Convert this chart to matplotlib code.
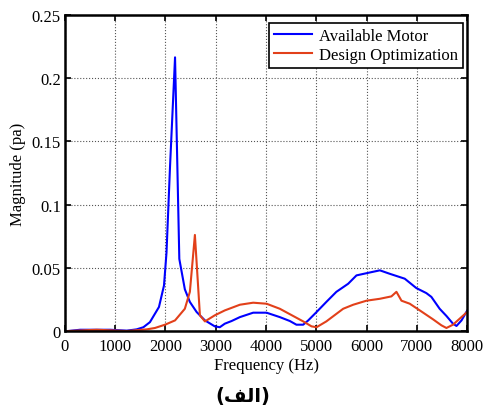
import matplotlib.pyplot as plt
import numpy as np
from matplotlib.ticker import FuncFormatter

# Datos (frecuencia en Hz, magnitud en pa)
freq_available = [66, 300, 900, 1230, 1425, 1560, 1690, 1870, 1970, 2020, 2090, 2190,
                  2275, 2385, 2485, 2620, 2785, 2980, 3080, 3180, 3315, 3480, 3745,
                  4010, 4275, 4475, 4605, 4740, 4840, 5005, 5200, 5400, 5635, 5800,
                  6030, 6265, 6460, 6760, 6990, 7190, 7290, 7455, 7590, 7720, 7790,
                  7890, 8000]
mag_available = [0.0, 0.001, 0.001, 0.0003, 0.0013, 0.003, 0.007, 0.019, 0.036, 0.062,
                 0.13, 0.2165, 0.057, 0.033, 0.023, 0.015, 0.0084, 0.0037, 0.003,
                 0.0058, 0.0079, 0.011, 0.0145, 0.0145, 0.011, 0.0079, 0.005, 0.005,
                 0.0084, 0.015, 0.023, 0.031, 0.0374, 0.044, 0.046, 0.048, 0.0453,
                 0.0414, 0.034, 0.030, 0.027, 0.0176, 0.0119, 0.0058, 0.004, 0.0084,
                 0.016]

freq_design = [66, 630, 1230, 1625, 1790, 1990, 2190, 2385, 2485, 2585, 2685, 2785,
               2980, 3180, 3480, 3745, 4010, 4275, 4540, 4740, 4905, 5005, 5200, 5535,
               5735, 6000, 6265, 6495, 6595, 6695, 6860, 7060, 7325, 7490, 7590, 7720,
               8000]
mag_design = [0.0, 0.001, 0.0, 0.0013, 0.0024, 0.005, 0.0084, 0.0176, 0.031, 0.076,
              0.0124, 0.0076, 0.0124, 0.0163, 0.0208, 0.0224, 0.0216, 0.0176, 0.0119,
              0.0076, 0.0037, 0.003, 0.0076, 0.0176, 0.0208, 0.024, 0.0255, 0.0274,
              0.031, 0.024, 0.0216, 0.0163, 0.0092, 0.0045, 0.0024, 0.005, 0.015]

x_ticks = [0, 1000, 2000, 3000, 4000, 5000, 6000, 7000, 8000]
y_ticks = [0, 0.05, 0.1, 0.15, 0.2, 0.25]

# "(الف)" en formas de presentación, orden visual
caption = "(\ufed2\ufedf\ufe8d)"

plt.rcParams['font.family'] = ['Liberation Serif', 'DejaVu Serif']

fig = plt.figure(figsize=(4.86, 4.10), dpi=100)
ax = fig.add_axes([0.1337, 0.1902, 0.8273, 0.7708])

ax.plot(freq_available, mag_available, color='#0000FF', linewidth=1.5, label='Available Motor')
ax.plot(freq_design, mag_design, color='#E2401A', linewidth=1.5, label='Design Optimization')

ax.set_xlim(0, 8000)
ax.set_ylim(0, 0.25)
ax.set_xticks(x_ticks)
ax.set_yticks(y_ticks)
ax.yaxis.set_major_formatter(FuncFormatter(lambda v, p: '%g' % v))
ax.tick_params(direction='in', top=True, right=True, labelsize=12, width=1.2, length=4)
ax.tick_params(axis='x', pad=5)
ax.tick_params(axis='y', pad=3)
ax.grid(True, color='#555555', linestyle=':', linewidth=0.8)
for spine in ax.spines.values():
    spine.set_linewidth(1.8)

ax.set_xlabel('Frequency (Hz)', fontsize=12, labelpad=2)
ax.set_ylabel('Magnitude (pa)', fontsize=12, labelpad=4)

leg = ax.legend(loc='upper right', bbox_to_anchor=(0.990, 0.975), fontsize=12,
                fancybox=False, framealpha=1, edgecolor='black', borderaxespad=0,
                handlelength=2.3, handletextpad=0.4, borderpad=0.3, labelspacing=0.2)
leg.get_frame().set_linewidth(1.2)

fig.text(0.5, 1 - 397 / 410, caption, ha='center', va='center',
         fontsize=14, fontweight='bold', family=['DejaVu Sans'])

fig.savefig('out.png', dpi=100)
